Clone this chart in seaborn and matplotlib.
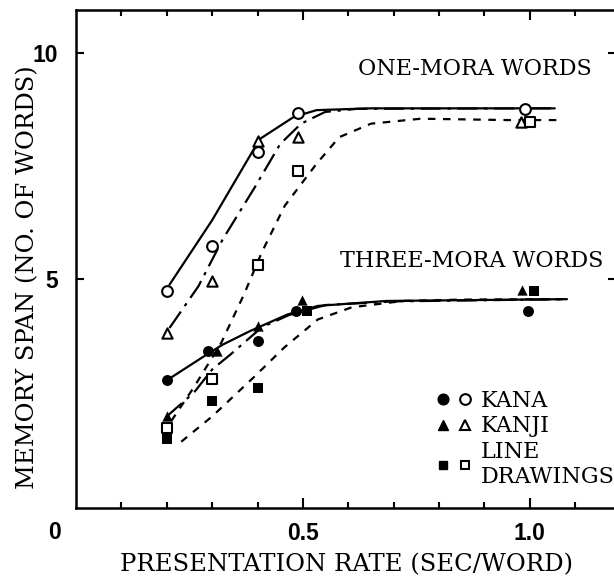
import matplotlib
matplotlib.use("Agg")
import matplotlib.pyplot as plt
from matplotlib.lines import Line2D
from matplotlib.legend_handler import HandlerTuple
import seaborn as sns

# ---------------------------
# data
# ---------------------------
# measured points (presentation rate in sec/word, span in words)
rate_kana_one = [0.20, 0.30, 0.40, 0.49, 0.99]
span_kana_one = [4.73, 5.73, 7.81, 8.68, 8.76]
rate_kanji_one = [0.20, 0.30, 0.40, 0.49, 0.98]
span_kanji_one = [3.80, 4.95, 8.05, 8.14, 8.48]
rate_line_one = [0.20, 0.30, 0.40, 0.49, 1.00]
span_line_one = [1.70, 2.77, 5.30, 7.40, 8.48]

rate_kana_three = [0.20, 0.29, 0.40, 0.485, 0.995]
span_kana_three = [2.76, 3.40, 3.62, 4.29, 4.29]
rate_kanji_three = [0.20, 0.31, 0.40, 0.497, 0.983]
span_kanji_three = [1.95, 3.40, 3.95, 4.53, 4.75]
rate_line_three = [0.20, 0.30, 0.40, 0.51, 1.01]
span_line_three = [1.44, 2.29, 2.58, 4.29, 4.73]

# hand-fitted curves
fit_kana_one_x = [0.206, 0.30, 0.405, 0.48, 0.53, 0.65, 1.055]
fit_kana_one_y = [4.87, 6.30, 8.10, 8.59, 8.74, 8.78, 8.78]
fit_kanji_one_x = [0.206, 0.27, 0.323, 0.394, 0.45, 0.496, 0.549, 0.62, 1.055]
fit_kanji_one_y = [3.91, 4.84, 5.87, 7.03, 7.99, 8.44, 8.70, 8.77, 8.78]
fit_line_one_x = [0.21, 0.26, 0.32, 0.37, 0.41, 0.46, 0.53, 0.58, 0.65, 0.76, 0.95, 1.06]
fit_line_one_y = [1.85, 2.60, 3.58, 4.65, 5.60, 6.62, 7.55, 8.14, 8.44, 8.55, 8.52, 8.52]

fit_kana_three_x = [0.20, 0.277, 0.323, 0.383, 0.466, 0.533, 0.684, 1.082]
fit_kana_three_y = [2.75, 3.25, 3.54, 3.84, 4.21, 4.40, 4.51, 4.55]
fit_kanji_three_x = [0.20, 0.26, 0.30, 0.34, 0.41, 0.47, 0.55, 0.70, 1.08]
fit_kanji_three_y = [1.95, 2.48, 2.99, 3.32, 3.93, 4.20, 4.42, 4.50, 4.55]
fit_line_three_x = [0.232, 0.30, 0.394, 0.458, 0.533, 0.608, 0.721, 0.85, 1.08]
fit_line_three_y = [1.39, 1.95, 2.84, 3.47, 4.10, 4.37, 4.51, 4.54, 4.55]

x_major = [0.5, 1.0]
x_major_labels = ["0.5", "1.0"]
x_minor = [0.1, 0.2, 0.3, 0.4, 0.6, 0.7, 0.8, 0.9, 1.1]
y_major = [5, 10]
y_major_labels = ["5", "10"]
legend_labels = ["KANA", "KANJI", "LINE\nDRAWINGS"]

# ---------------------------
# style
# ---------------------------
sns.set_style("ticks")
plt.rcParams["font.family"] = ["DejaVu Serif", "Liberation Serif"]
plt.rcParams.update({"text.color": "black", "axes.labelcolor": "black",
                     "xtick.color": "black", "ytick.color": "black"})
TXT = 17.5      # axis titles
NOTE = 16       # in-plot notes and legend
NUM_FONT = ["Liberation Sans Narrow", "Liberation Sans", "DejaVu Sans"]
SOLID = "-"
DASHDOT = (0, (9, 3, 1.5, 3))
DASHED = (0, (3.4, 3.4))
LW = 1.6

fig = plt.figure(figsize=(6.14, 5.79), dpi=100)
ax = fig.add_axes([76 / 614, 71 / 579, 540 / 614, 498 / 579])

# ---------------------------
# curves
# ---------------------------
curves = [
    (fit_kana_one_x, fit_kana_one_y, SOLID),
    (fit_kanji_one_x, fit_kanji_one_y, DASHDOT),
    (fit_line_one_x, fit_line_one_y, DASHED),
    (fit_kana_three_x, fit_kana_three_y, SOLID),
    (fit_kanji_three_x, fit_kanji_three_y, DASHDOT),
    (fit_line_three_x, fit_line_three_y, DASHED),
]
for cx, cy, ls in curves:
    sns.lineplot(x=cx, y=cy, ax=ax, color="black", linewidth=LW,
                 linestyle=ls, sort=False, estimator=None)

# ---------------------------
# points (open = one-mora, filled = three-mora)
# ---------------------------
points = [
    (rate_kana_one, span_kana_one, "o", 60, False),
    (rate_kanji_one, span_kanji_one, "^", 55, False),
    (rate_line_one, span_line_one, "s", 42, False),
    (rate_kana_three, span_kana_three, "o", 62, True),
    (rate_kanji_three, span_kanji_three, "^", 55, True),
    (rate_line_three, span_line_three, "s", 42, True),
]
for px, py, mk, sz, filled in points:
    sns.scatterplot(x=px, y=py, ax=ax, marker=mk, s=sz,
                    color="black" if filled else "white",
                    edgecolor="black", linewidth=0 if filled else 1.5,
                    zorder=5)

# ---------------------------
# axes
# ---------------------------
ax.set_xlim(0, 1.19)
ax.set_ylim(-0.08, 10.96)
ax.set_xticks(x_major)
ax.set_xticklabels(x_major_labels)
ax.set_xticks(x_minor, minor=True)
ax.set_yticks(y_major)
ax.set_yticklabels(y_major_labels)
ax.tick_params(which="both", direction="in", top=True, right=True, width=1.5, color="black")
ax.tick_params(axis="x", which="major", length=7, pad=10)
ax.tick_params(axis="x", which="minor", length=4.5)
ax.tick_params(axis="y", which="major", length=6, pad=13)
for lab in ax.get_xticklabels() + ax.get_yticklabels():
    lab.set_family(NUM_FONT)
    lab.set_fontweight("bold")
    lab.set_fontsize(16.5)
for sp in ax.spines.values():
    sp.set_linewidth(1.8)
    sp.set_color("black")

ax.text(-0.039, -0.05, "0", transform=ax.transAxes, ha="center", va="center",
        family=NUM_FONT, fontweight="bold", fontsize=16.5)

ax.set_xlabel("PRESENTATION RATE (SEC/WORD)", fontsize=TXT)
ax.set_ylabel("MEMORY SPAN (NO. OF WORDS)", fontsize=TXT)
ax.xaxis.set_label_coords(0.5, -0.09)
ax.yaxis.set_label_coords(-0.068, 0.464)

ax.text(1.137, 9.65, "ONE-MORA WORDS", ha="right", va="center", fontsize=NOTE)
ax.text(1.163, 5.39, "THREE-MORA WORDS", ha="right", va="center", fontsize=NOTE)

# legend: filled + open marker pairs
def pair(mk, ms):
    full = Line2D([], [], ls="none", marker=mk, ms=ms, mfc="black", mec="black")
    hollow = Line2D([], [], ls="none", marker=mk, ms=ms, mfc="white", mec="black", mew=1.5)
    return (full, hollow)

handles = [pair("o", 7.7), pair("^", 7.3), pair("s", 6.3)]
leg = ax.legend(handles, legend_labels,
                handler_map={tuple: HandlerTuple(ndivide=None, pad=0)},
                frameon=False, loc="upper left", bbox_to_anchor=(0.661, 0.237),
                borderpad=0, borderaxespad=0, handlelength=1.9,
                handletextpad=0.25, labelspacing=0.15, fontsize=NOTE)
for t in leg.get_texts():
    t.set_linespacing(1.22)

fig.savefig("out.png", dpi=100)
